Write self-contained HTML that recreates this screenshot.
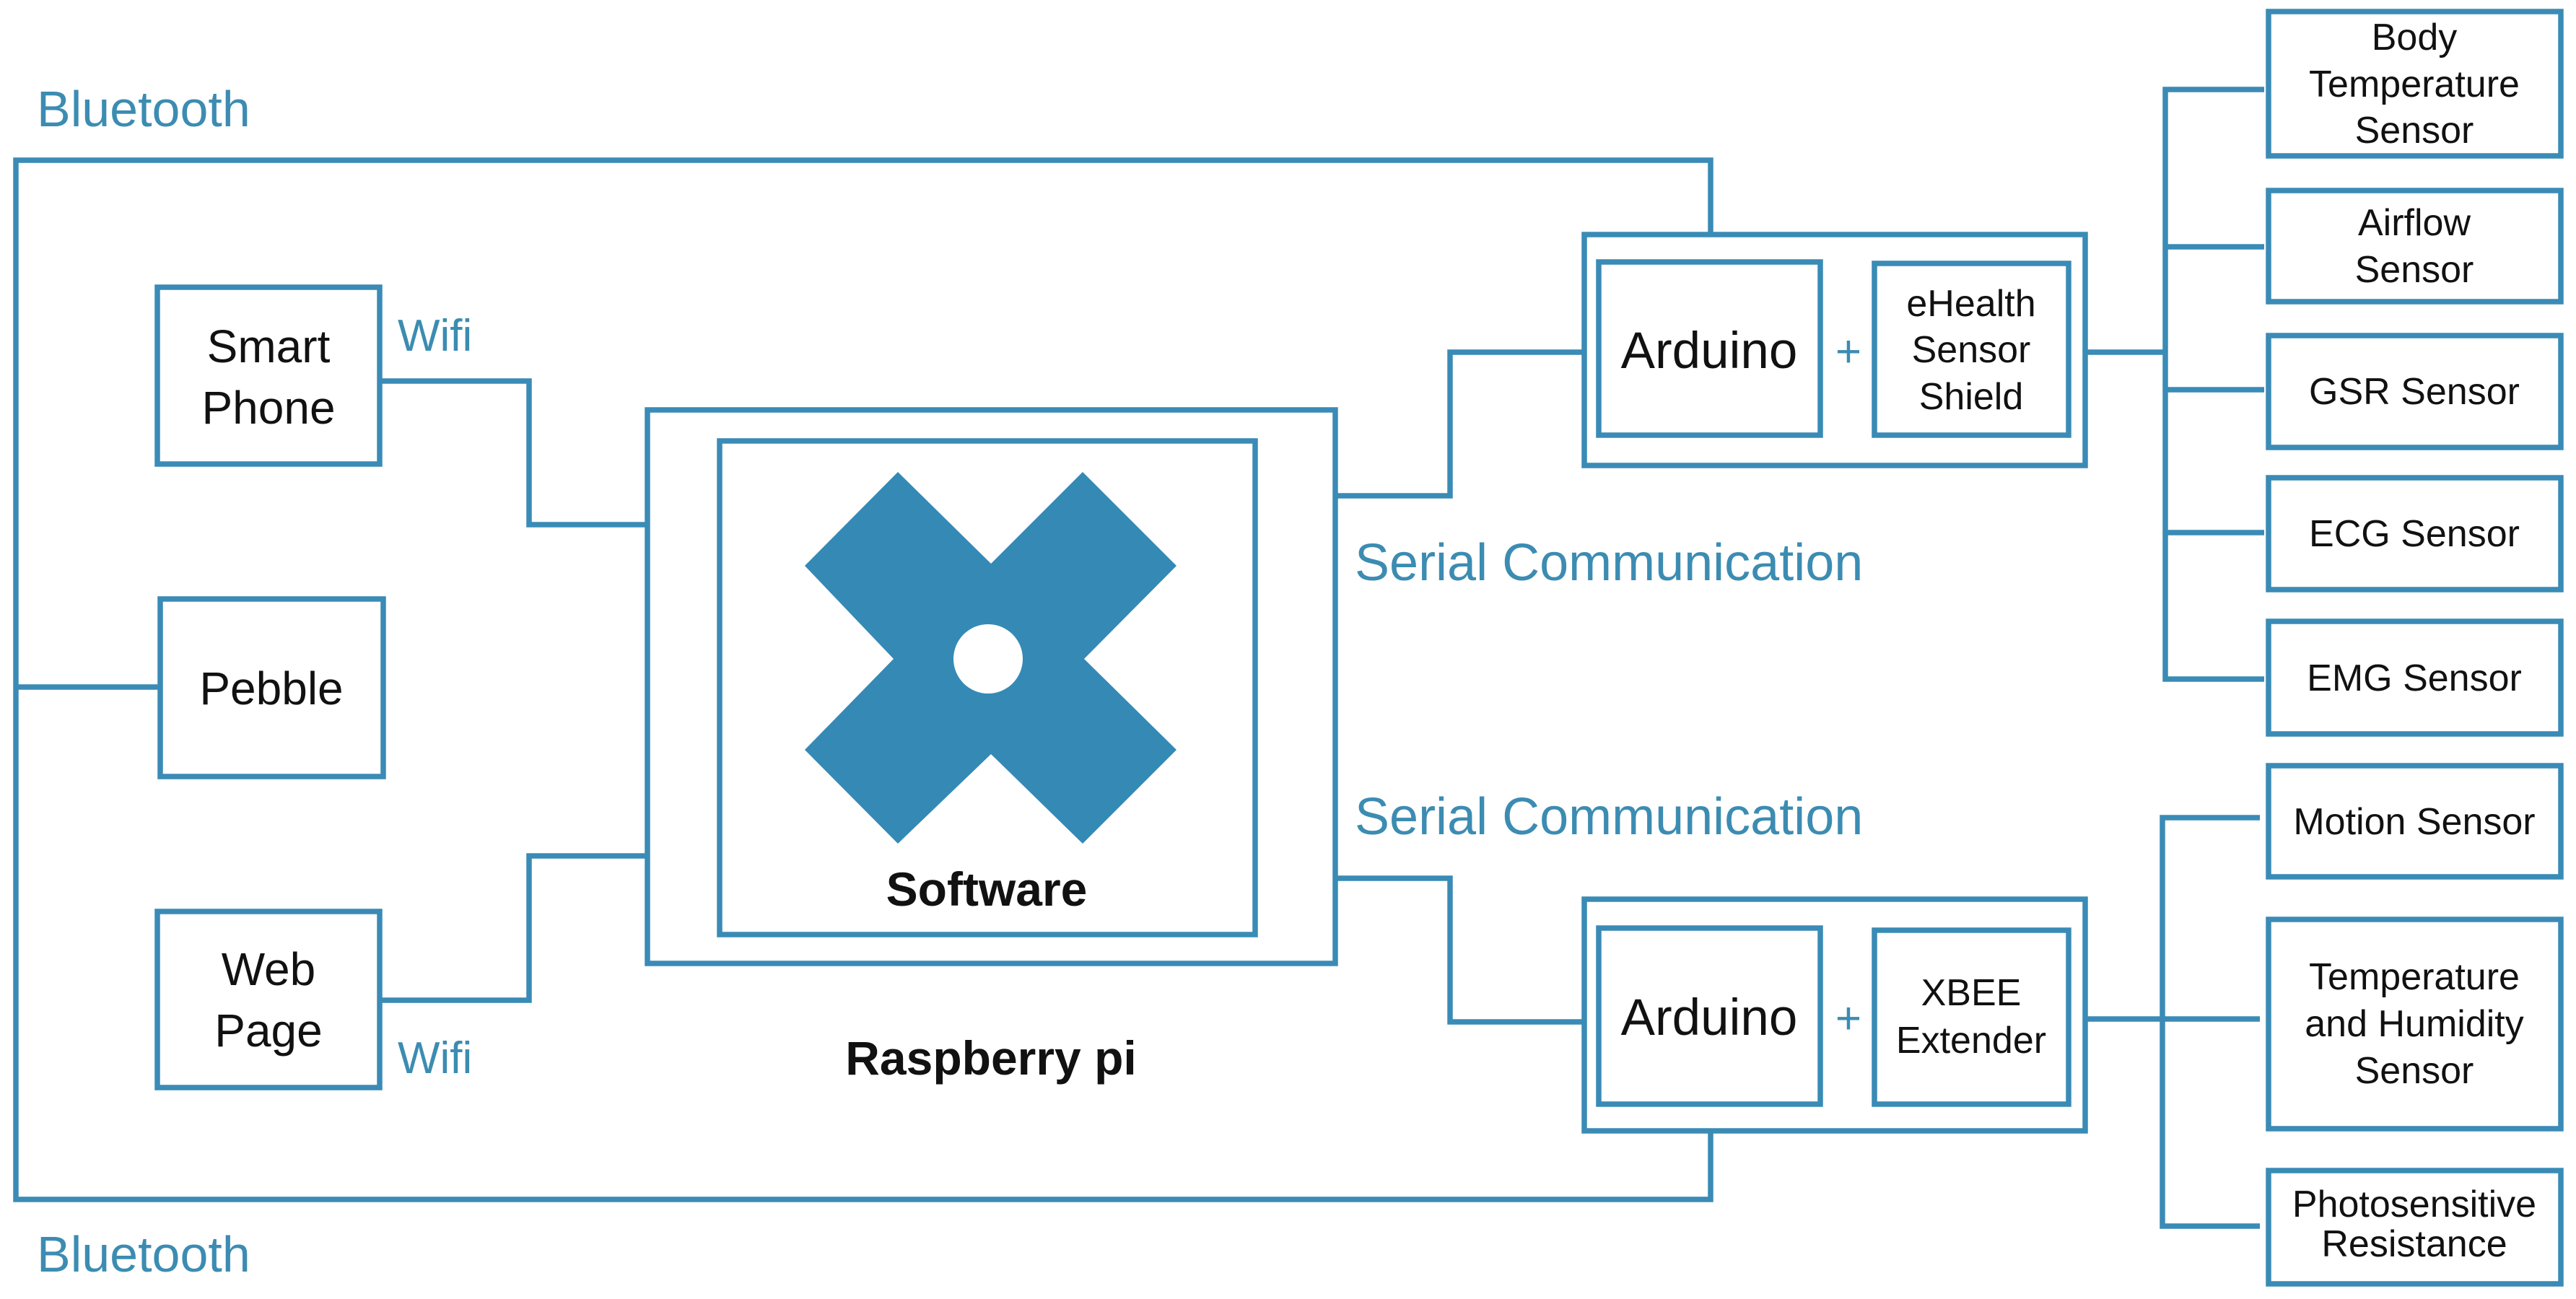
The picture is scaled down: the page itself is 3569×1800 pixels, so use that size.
<!DOCTYPE html>
<html><head><meta charset="utf-8"><style>
html,body{margin:0;padding:0;background:#fff;}
svg{display:block;}
text{font-family:"Liberation Sans",Arial,sans-serif;}
</style></head><body>
<svg width="3569" height="1800" viewBox="0 0 3569 1800" xmlns="http://www.w3.org/2000/svg">
<g fill="none" stroke="#3a8bb6" stroke-width="7.5">
<polyline points="2370,325 2370,222 22,222 22,1662 2370,1662 2370,1567"/>
<line x1="22" y1="952" x2="222" y2="952"/>
<rect x="218" y="398" width="308" height="245"/>
<rect x="222" y="830" width="309" height="246"/>
<rect x="218" y="1263" width="308" height="244"/>
<polyline points="526,528 733,528 733,727 897,727"/>
<polyline points="526,1386 733,1386 733,1186 897,1186"/>
<rect x="897" y="568" width="953" height="767"/>
<rect x="997" y="611" width="742" height="684"/>
<polyline points="1850,687 2009,687 2009,488 2195,488"/>
<polyline points="1850,1217 2009,1217 2009,1416 2195,1416"/>
<rect x="2195" y="325" width="694" height="320"/>
<rect x="2215" y="363" width="307" height="240"/>
<rect x="2597" y="365" width="269" height="238"/>
<rect x="2195" y="1246" width="694" height="321"/>
<rect x="2215" y="1286" width="307" height="244"/>
<rect x="2597" y="1289" width="269" height="241"/>
<line x1="2889" y1="488" x2="3000" y2="488"/>
<polyline points="3137,124 3000,124 3000,941 3137,941"/>
<line x1="3000" y1="342" x2="3137" y2="342"/>
<line x1="3000" y1="540" x2="3137" y2="540"/>
<line x1="3000" y1="738" x2="3137" y2="738"/>
<line x1="2889" y1="1412" x2="3131" y2="1412"/>
<polyline points="3131,1133 2996,1133 2996,1699 3131,1699"/>
<rect x="3143" y="16" width="405" height="200"/>
<rect x="3143" y="264" width="405" height="154"/>
<rect x="3143" y="465" width="405" height="155"/>
<rect x="3143" y="662" width="405" height="155"/>
<rect x="3143" y="861" width="405" height="156"/>
<rect x="3143" y="1061" width="405" height="154"/>
<rect x="3143" y="1274" width="405" height="290"/>
<rect x="3143" y="1622" width="405" height="157"/>
</g>
<polygon fill="#3589b5" points="1115,784 1244,654 1373,781 1500,654 1630,784 1502,913 1630,1039 1500,1169 1373,1045 1244,1169 1115,1039 1238,913"/>
<circle cx="1369" cy="913" r="48" fill="#fff"/>
<g fill="#3c8cb2" font-size="70">
<text x="51" y="175">Bluetooth</text>
<text x="51" y="1762">Bluetooth</text>
<text x="1877" y="804" font-size="72">Serial Communication</text>
<text x="1877" y="1156" font-size="72">Serial Communication</text>
<text x="551" y="486" font-size="62">Wifi</text>
<text x="551" y="1487" font-size="62">Wifi</text>
<text x="2561" y="508" font-size="62" text-anchor="middle">+</text>
<text x="2561" y="1432" font-size="62" text-anchor="middle">+</text>
</g>
<g fill="#111" text-anchor="middle">
<g font-size="64">
<text x="372" y="502">Smart</text>
<text x="372" y="587">Phone</text>
<text x="376" y="976">Pebble</text>
<text x="372" y="1365">Web</text>
<text x="372" y="1450">Page</text>
</g>
<text x="1367" y="1255" font-size="66" font-weight="bold">Software</text>
<text x="1373" y="1489" font-size="66" font-weight="bold">Raspberry pi</text>
<text x="2368" y="510" font-size="71">Arduino</text>
<text x="2368" y="1434" font-size="71">Arduino</text>
<g font-size="52">
<text x="2731" y="438">eHealth</text>
<text x="2731" y="502">Sensor</text>
<text x="2731" y="567">Shield</text>
<text x="2731" y="1393">XBEE</text>
<text x="2731" y="1459">Extender</text>
<text x="3345" y="69">Body</text>
<text x="3345" y="134">Temperature</text>
<text x="3345" y="198">Sensor</text>
<text x="3345" y="326">Airflow</text>
<text x="3345" y="391">Sensor</text>
<text x="3345" y="560">GSR Sensor</text>
<text x="3345" y="757">ECG Sensor</text>
<text x="3345" y="957">EMG Sensor</text>
<text x="3345" y="1156">Motion Sensor</text>
<text x="3345" y="1371">Temperature</text>
<text x="3345" y="1436">and Humidity</text>
<text x="3345" y="1501">Sensor</text>
<text x="3345" y="1686">Photosensitive</text>
<text x="3345" y="1741">Resistance</text>
</g>
</g>
</svg>
</body></html>
